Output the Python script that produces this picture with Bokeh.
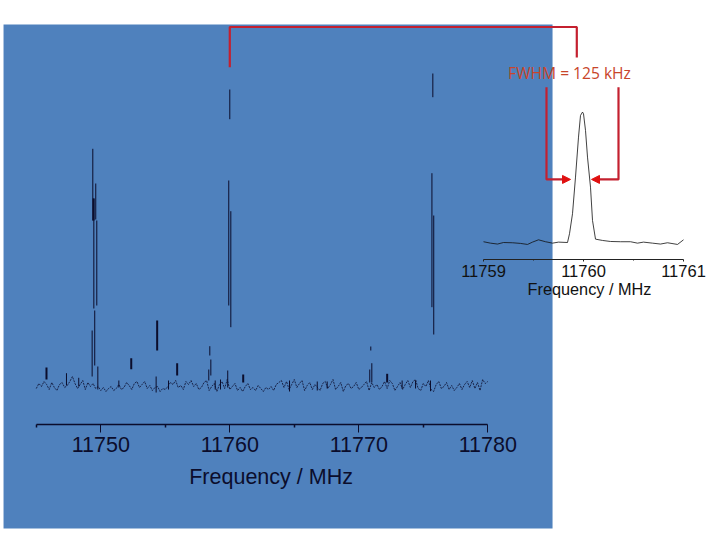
from bokeh.embed import file_html
from bokeh.models import (Arrow, FixedTicker, Label, LinearAxis,
                          NormalHead, Range1d)
from bokeh.plotting import figure
from bokeh.resources import INLINE

# --- main spectrum (frequency in MHz, intensity in arbitrary units) ---
main_ticks = [11750, 11760, 11770, 11780]
main_minor_ticks = [11745, 11755, 11765, 11775]
main_bounds = [11745, 11780]
axis_title = "Frequency / MHz"

thin_freq = [11749.38, 11749.61, 11749.46, 11749.69, 11749.53, 11749.33, 11749.77,
             11760.00, 11759.92, 11760.08,
             11775.74, 11775.67, 11775.81,
             11758.45, 11758.53, 11758.37, 11759.84, 11747.34, 11754.29,
             11770.93, 11771.01, 11770.85, 11775.56,
             11748.29, 11751.40, 11755.25, 11758.87, 11759.28,
             11764.63, 11766.78, 11767.55, 11773.36, 11774.40]
thin_top = [236.7, 202, 187, 165, 75, 55, 19,
            296, 205, 174.3,
            312, 212.3, 170,
            39.3, 26, 16, 15, 12.3, 9,
            39, 22.3, 16, 5,
            7.7, 5, 5, 5, 6,
            5, 4, 4, 5, 5]
thin_bottom = [165, 166, 77, 80, 20, 9, -4,
               266.3, 80, 58.3,
               288.3, 78.3, 51,
               30, 10, 5, -2, 0, -7,
               35, 3.3, 3, -5.7,
               -1, -2, -4, -4, -4,
               -6, -5, -3, -3, -3]

thick_freq = [11749.44, 11754.37, 11745.79, 11752.36, 11755.92, 11761.04, 11772.20]
thick_top = [187, 65, 18, 27.3, 22.3, 11, 11.7]
thick_bottom = [165, 35, 6, 16.3, 10, 3, 3]

noise_freq = [
    11745.0, 11745.2, 11745.4, 11745.6, 11745.8, 11746.0, 11746.2, 11746.4, 11746.6, 11746.8,
    11747.0, 11747.2, 11747.4, 11747.6, 11747.8, 11748.0, 11748.2, 11748.4, 11748.6, 11748.8,
    11749.0, 11749.2, 11749.4, 11749.6, 11749.8, 11750.0, 11750.2, 11750.4, 11750.6, 11750.8,
    11751.0, 11751.2, 11751.4, 11751.6, 11751.8, 11752.0, 11752.2, 11752.4, 11752.6, 11752.8,
    11753.0, 11753.2, 11753.4, 11753.6, 11753.8, 11754.0, 11754.2, 11754.4, 11754.6, 11754.8,
    11755.0, 11755.2, 11755.4, 11755.6, 11755.8, 11756.0, 11756.2, 11756.4, 11756.6, 11756.8,
    11757.0, 11757.2, 11757.4, 11757.6, 11757.8, 11758.0, 11758.2, 11758.4, 11758.6, 11758.8,
    11759.0, 11759.2, 11759.4, 11759.6, 11759.8, 11760.0, 11760.2, 11760.4, 11760.6, 11760.8,
    11761.0, 11761.2, 11761.4, 11761.6, 11761.8, 11762.0, 11762.2, 11762.4, 11762.6, 11762.8,
    11763.0, 11763.2, 11763.4, 11763.6, 11763.8, 11764.0, 11764.2, 11764.4, 11764.6, 11764.8,
    11765.0, 11765.2, 11765.4, 11765.6, 11765.8, 11766.0, 11766.2, 11766.4, 11766.6, 11766.8,
    11767.0, 11767.2, 11767.4, 11767.6, 11767.8, 11768.0, 11768.2, 11768.4, 11768.6, 11768.8,
    11769.0, 11769.2, 11769.4, 11769.6, 11769.8, 11770.0, 11770.2, 11770.4, 11770.6, 11770.8,
    11771.0, 11771.2, 11771.4, 11771.6, 11771.8, 11772.0, 11772.2, 11772.4, 11772.6, 11772.8,
    11773.0, 11773.2, 11773.4, 11773.6, 11773.8, 11774.0, 11774.2, 11774.4, 11774.6, 11774.8,
    11775.0, 11775.2, 11775.4, 11775.6, 11775.8, 11776.0, 11776.2, 11776.4, 11776.6, 11776.8,
    11777.0, 11777.2, 11777.4, 11777.6, 11777.8, 11778.0, 11778.2, 11778.4, 11778.6, 11778.8,
    11779.0, 11779.2, 11779.4, 11779.6, 11779.8, 11780.0,
]
noise_int = [
    -3, 2, -1, 4, 1, -4, 3, -2, -5, 1, 3, -2, 0, 4, 9, 2, -3, 1, 5, -4,
    3, -1, 2, -3, -1, -5, -2, -6, -3, -1, -5, -3, 1, -4, -2, 3, 0, -4, 2, 4,
    -2, 1, 4, -3, 0, -5, -2, -1, -6, -3, -4, -1, 3, 1, 5, -2, 0, -4, 4, 1,
    5, -1, 2, -4, -2, 3, 5, -5, -1, 2, -6, 1, 4, -3, 6, -4, -1, 2, -5, -2,
    -6, -1, 2, -4, -2, -5, 0, -3, -6, -2, -4, -1, -5, 1, 3, 5, -2, 4, -4, 1,
    6, -2, 2, 5, -5, 0, 3, -4, 1, -2, -5, 2, 4, -3, 1, 6, -4, -1, 3, -6,
    0, 2, -3, -1, 3, -4, -2, 1, 4, -5, 3, -2, 1, -4, -1, 4, -3, 5, 2, -5,
    -1, 3, -4, 1, 5, -2, 4, 6, -3, -5, 2, -1, 5, -4, -6, 1, 4, -3, -1, 3,
    -4, 0, -5, -2, 2, -4, 1, 4, -2, 5, -3, 3, -5, 6, 2, 4,
]

# --- inset: zoom on the 11760 MHz line (relative intensity) ---
inset_ticks = [11759, 11760, 11761]
inset_minor_ticks = [11759.5, 11760.5]
inset_bounds = [11759, 11761]
inset_freq = [11759.00, 11759.07, 11759.14, 11759.20, 11759.29, 11759.37, 11759.44, 11759.49,
              11759.55, 11759.62, 11759.69, 11759.75, 11759.84, 11759.86, 11759.89, 11759.92,
              11759.95, 11759.97, 11759.99, 11760.00, 11760.02, 11760.04, 11760.07, 11760.09,
              11760.12, 11760.19, 11760.27, 11760.37, 11760.47, 11760.54, 11760.60, 11760.69,
              11760.77, 11760.84, 11760.94, 11761.00]
inset_int = [-0.010, -0.021, -0.028, -0.016, -0.018, -0.023, -0.031, -0.013,
             0.005, -0.010, -0.021, -0.013, -0.016, 0.052, 0.207, 0.491,
             0.801, 0.969, 0.995, 0.982, 0.853, 0.646, 0.413, 0.155,
             0.010, 0.000, -0.008, -0.010, -0.010, -0.021, -0.013, -0.021,
             -0.028, -0.018, -0.031, 0.005]

annotation_text = "FWHM = 125 kHz"

# --- annotation geometry ---
panel_x = [11742.46, 11785.02]
panel_y = [-143, 361]
top_bracket_x = [11760.0, 11760.0, 11786.9, 11786.9]
top_bracket_y = [318.3, 358.5, 358.5, 328]
left_bracket_x = [11759.63, 11759.63, 11759.84]
left_bracket_y = [1.188, 0.473, 0.473]
right_bracket_x = [11760.35, 11760.35, 11760.13]
right_bracket_y = [1.188, 0.473, 0.473]
left_arrow = [11759.80, 11759.87, 0.473]
right_arrow = [11760.15, 11760.08, 0.473]

INK = "#0b0d2c"
RED = "#c4202f"

p = figure(width=720, height=540, output_backend="svg", toolbar_location=None,
           x_axis_type=None, y_axis_type=None, min_border=0,
           x_range=Range1d(11742.225, 11798.04), y_range=Range1d(-155, 385),
           background_fill_color="white", border_fill_color="white",
           outline_line_color=None)
p.grid.visible = False
p.extra_x_ranges["inset_x"] = Range1d(11754.17, 11761.37)
p.extra_y_ranges["inset_y"] = Range1d(-2.326, 1.860)

p.quad(left=[panel_x[0]], right=[panel_x[1]], bottom=[panel_y[0]], top=[panel_y[1]],
       fill_color="#4f81bd", line_color=None)

p.segment(x0=thin_freq, x1=thin_freq, y0=thin_bottom, y1=thin_top, line_color=INK, line_width=1)
p.segment(x0=thick_freq, x1=thick_freq, y0=thick_bottom, y1=thick_top, line_color=INK, line_width=2)
p.line(noise_freq, noise_int, line_color=INK, line_width=0.8, line_dash=[2, 1])

p.line(inset_freq, inset_int, x_range_name="inset_x", y_range_name="inset_y",
       line_color="#101010", line_width=0.8)

main_axis = LinearAxis(fixed_location=-39.3, bounds=tuple(main_bounds),
                       ticker=FixedTicker(ticks=main_ticks, minor_ticks=main_minor_ticks))
main_axis.axis_line_color = INK
main_axis.axis_line_width = 1.5
main_axis.major_tick_line_color = INK
main_axis.minor_tick_line_color = INK
main_axis.major_tick_line_width = 1
main_axis.minor_tick_line_width = 1.5
main_axis.major_tick_in = 0
main_axis.major_tick_out = 8
main_axis.minor_tick_in = 0
main_axis.minor_tick_out = 3
main_axis.major_label_standoff = 4
main_axis.major_label_text_font = "Liberation Sans"
main_axis.major_label_text_font_size = "21.5px"
main_axis.major_label_text_color = INK
p.add_layout(main_axis, "below")

inset_axis = LinearAxis(fixed_location=-0.15, bounds=tuple(inset_bounds),
                        x_range_name="inset_x", y_range_name="inset_y",
                        ticker=FixedTicker(ticks=inset_ticks, minor_ticks=inset_minor_ticks))
inset_axis.axis_line_color = "#222222"
inset_axis.axis_line_width = 1
inset_axis.major_tick_line_color = "#222222"
inset_axis.minor_tick_line_color = "#222222"
inset_axis.major_tick_in = 0
inset_axis.major_tick_out = 2
inset_axis.minor_tick_in = 0
inset_axis.minor_tick_out = 1
inset_axis.major_label_standoff = 3
inset_axis.major_label_text_font = "Liberation Sans"
inset_axis.major_label_text_font_size = "16.5px"
inset_axis.major_label_text_color = "#111111"
p.add_layout(inset_axis, "below")

p.add_layout(Label(x=11763.2, y=-91.7, text=axis_title, text_align="center", text_baseline="middle",
                   text_font="Liberation Sans", text_font_size="21.5px", text_color=INK))
p.add_layout(Label(x=11760.06, y=-0.38, x_range_name="inset_x", y_range_name="inset_y",
                   text=axis_title, text_align="center", text_baseline="middle",
                   text_font="Liberation Sans", text_font_size="16.3px", text_color="#111111"))
p.add_layout(Label(x=11759.86, y=1.3, x_range_name="inset_x", y_range_name="inset_y",
                   text=annotation_text, text_align="center", text_baseline="middle",
                   text_font="Open Sans", text_font_size="15.6px", text_color="#c8452a"))

p.line(top_bracket_x, top_bracket_y, line_color=RED, line_width=2.2)
for bx, by in ((left_bracket_x, left_bracket_y), (right_bracket_x, right_bracket_y)):
    p.line(bx, by, x_range_name="inset_x", y_range_name="inset_y", line_color=RED, line_width=2.2)
for x0, x1, y in (left_arrow, right_arrow):
    p.add_layout(Arrow(x_start=x0, x_end=x1, y_start=y, y_end=y,
                       x_range_name="inset_x", y_range_name="inset_y",
                       line_color="#e01010", line_width=2,
                       end=NormalHead(size=8, fill_color="#e01010", line_color="#e01010")))

open("out.html", "w").write(file_html(p, INLINE))
